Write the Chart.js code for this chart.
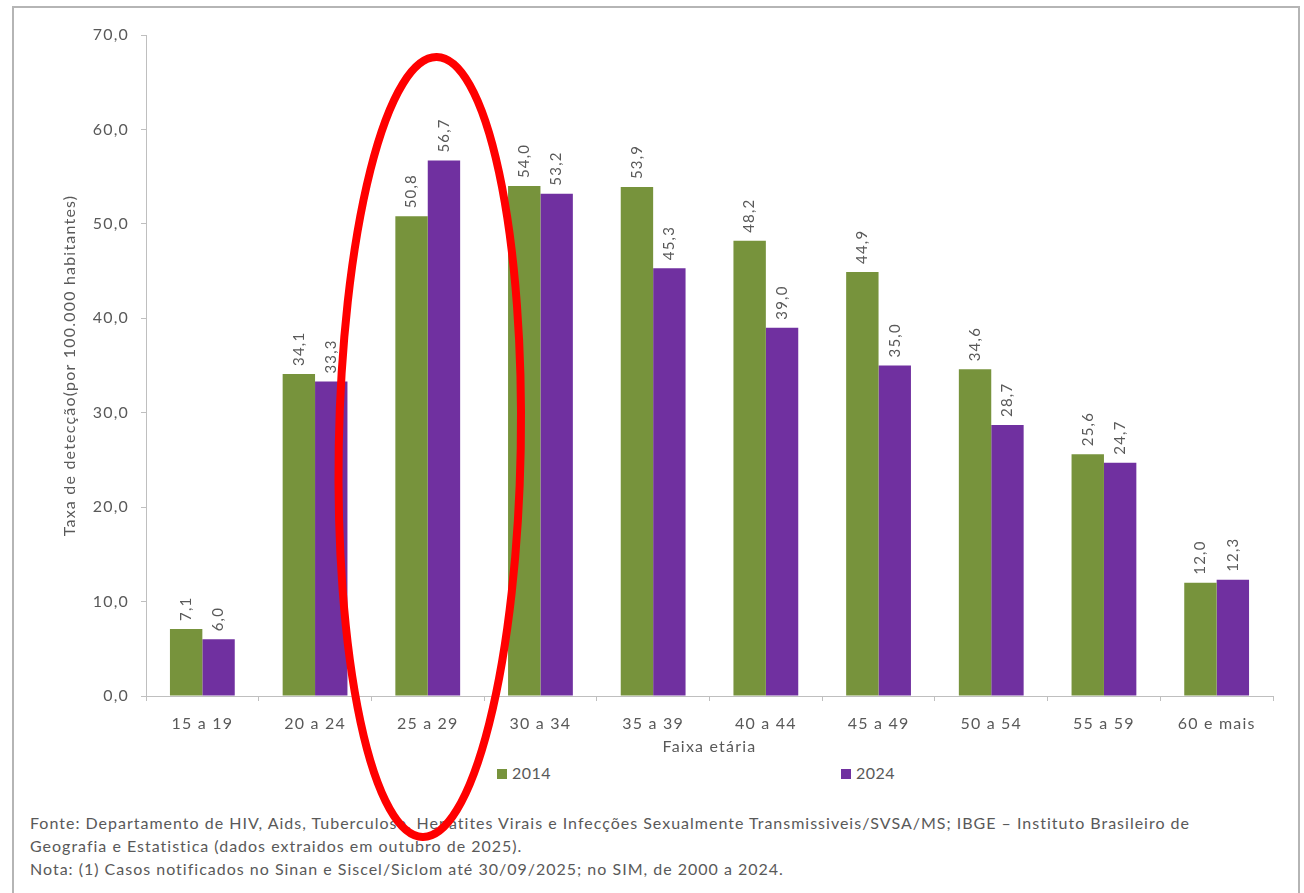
<!DOCTYPE html>
<html lang="pt-BR">
<head>
  <meta charset="UTF-8">
  <title>Taxa de detecção por faixa etária</title>
  <script src="https://cdn.jsdelivr.net/npm/chart.js"></script>
  <style>
    html, body { margin: 0; padding: 0; background: #fff; }
    body { width: 1304px; height: 893px; position: relative; overflow: hidden; font-family: Lato, "Open Sans", sans-serif; color: #595959; }
    .frame { position: absolute; left: 12px; top: 6px; width: 1284px; height: 960px; border: 2px solid #b5b5b5; }
    .legend { position: absolute; top: 764px; font-size: 16px; line-height: 18px; letter-spacing: 0.5px; }
    .legend span.box { display: inline-block; width: 10px; height: 10px; margin-right: 5px; }
    .nota { position: absolute; left: 30px; top: 811px; font-size: 16px; line-height: 23px; white-space: nowrap; letter-spacing: 1px; }
    #wrap { position: absolute; left: 0; top: 0; width: 1304px; height: 893px; z-index: 2; }
  </style>
</head>
<body>
  <div class="frame"></div>
  <div class="legend" id="leg0" style="left:497px"></div>
  <div class="legend" id="leg1" style="left:841px"></div>
  <div class="nota">
    Fonte: Departamento de HIV, Aids, Tuberculose, Hepatites Virais e Infecções Sexualmente Transmissiveis/SVSA/MS; IBGE – Instituto Brasileiro de<br>
    Geografia e Estatistica (dados extraidos em outubro de 2025).<br>
    Nota: (1) Casos notificados no Sinan e Siscel/Siclom até 30/09/2025; no SIM, de 2000 a 2024.
  </div>
  <div id="wrap"><canvas id="myChart" width="1304" height="893"></canvas></div>

  <script>
    const faixas = ["15 a 19", "20 a 24", "25 a 29", "30 a 34", "35 a 39", "40 a 44", "45 a 49", "50 a 54", "55 a 59", "60 e mais"];
    const anos = ["2014", "2024"];
    const taxa2014 = [7.1, 34.1, 50.8, 54.0, 53.9, 48.2, 44.9, 34.6, 25.6, 12.0];
    const taxa2024 = [6.0, 33.3, 56.7, 53.2, 45.3, 39.0, 35.0, 28.7, 24.7, 12.3];
    const cores = ["#77933c", "#7030a0"];
    const destaque = 2; // faixa circulada em vermelho

    const fmt = v => v.toFixed(1).replace(".", ",");
    const cinza = "#595959";

    // legenda em html
    [taxa2014, taxa2024].forEach((s, i) => {
      document.getElementById("leg" + i).innerHTML =
        '<span class="box" style="background:' + cores[i] + '"></span>' + anos[i];
    });

    // espaçamento de letras no canvas (fonte do original é mais larga)
    const espaco = {
      id: "espaco",
      beforeUpdate(chart) { chart.ctx.letterSpacing = "1.2px"; },
      beforeDraw(chart) { chart.ctx.letterSpacing = "1.2px"; }
    };

    // rótulos de valor girados acima das barras
    const rotulos = {
      id: "rotulos",
      afterDatasetsDraw(chart) {
        const ctx = chart.ctx;
        ctx.save();
        ctx.font = "15px Lato";
        ctx.fillStyle = cinza;
        ctx.textAlign = "left";
        ctx.textBaseline = "middle";
        chart.data.datasets.forEach((ds, i) => {
          chart.getDatasetMeta(i).data.forEach((bar, j) => {
            ctx.save();
            ctx.translate(bar.x, bar.y - 8);
            ctx.rotate(-Math.PI / 2);
            ctx.fillText(fmt(ds.data[j]), 0, 0);
            ctx.restore();
          });
        });
        ctx.restore();
      }
    };

    // elipse vermelha em volta da faixa destacada
    const elipse = {
      id: "elipse",
      afterDraw(chart) {
        const ctx = chart.ctx;
        const cx = chart.scales.x.getPixelForValue(destaque) + 2;
        ctx.save();
        ctx.strokeStyle = "#ff0000";
        ctx.lineWidth = 8;
        ctx.beginPath();
        ctx.ellipse(cx, 447, 91, 390, 0.018, 0, Math.PI * 2);
        ctx.stroke();
        ctx.restore();
      }
    };

    new Chart(document.getElementById("myChart"), {
      type: "bar",
      data: {
        labels: faixas,
        datasets: [
          { label: anos[0], data: taxa2014, backgroundColor: cores[0] },
          { label: anos[1], data: taxa2024, backgroundColor: cores[1] }
        ]
      },
      options: {
        responsive: false,
        animation: false,
        categoryPercentage: 0.575,
        barPercentage: 1,
        layout: { padding: { left: 60, top: 35, right: 31, bottom: 137 } },
        plugins: { legend: { display: false }, tooltip: { enabled: false } },
        scales: {
          x: {
            afterFit: s => { s.height = 60; },
            border: { color: "#bfbfbf", width: 1 },
            grid: { drawOnChartArea: false, tickLength: 5, color: "#bfbfbf" },
            ticks: { color: cinza, font: { family: "Lato", size: 16 }, padding: 13, maxRotation: 0 },
            title: { display: true, text: "Faixa etária", color: cinza, font: { family: "Lato", size: 16 }, padding: 0 }
          },
          y: {
            min: 0, max: 70,
            afterFit: s => { s.width = 86; },
            border: { color: "#bfbfbf", width: 1 },
            grid: { drawOnChartArea: false, tickLength: 5, color: "#bfbfbf" },
            ticks: { stepSize: 10, color: cinza, font: { family: "Lato", size: 16 }, padding: 12, callback: v => fmt(v) },
            title: { display: true, text: "Taxa de detecção(por 100.000 habitantes)", color: cinza, font: { family: "Lato", size: 16 }, padding: 0 }
          }
        }
      },
      plugins: [espaco, rotulos, elipse]
    });
  </script>
</body>
</html>
